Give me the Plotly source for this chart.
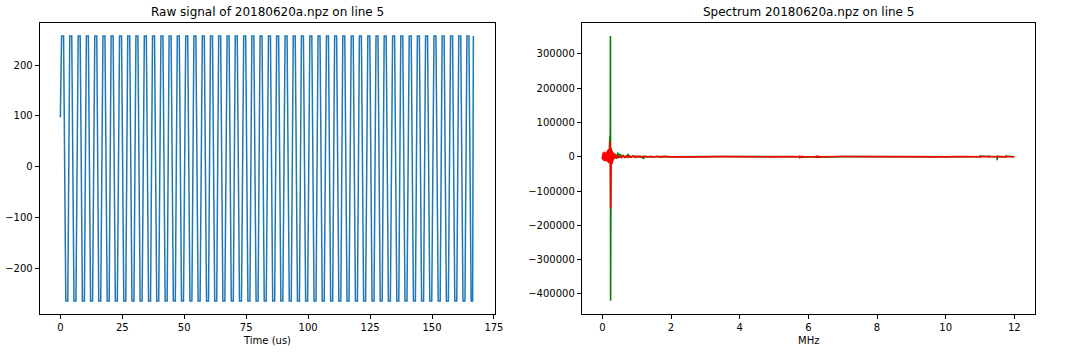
import plotly.graph_objects as go

# ---------------- data: raw signal (vertices) ----------------
# each row: top-plateau start, top-plateau end, bottom-plateau start, bottom-plateau end (us)
sig_t = [0.0,
         0.5, 1.3, 2.2, 3.0,
         3.8, 4.6, 5.5, 6.3,
         7.2, 8.0, 8.9, 9.7,
         10.5, 11.3, 12.2, 13.0,
         13.9, 14.7, 15.5, 16.3,
         17.2, 18.0, 18.9, 19.7,
         20.5, 21.3, 22.2, 23.0,
         23.9, 24.7, 25.6, 26.4,
         27.2, 28.0, 28.9, 29.7,
         30.5, 31.3, 32.2, 33.0,
         33.9, 34.7, 35.6, 36.4,
         37.2, 38.0, 38.9, 39.7,
         40.6, 41.4, 42.3, 43.1,
         43.9, 44.7, 45.6, 46.4,
         47.2, 48.0, 48.9, 49.7,
         50.6, 51.4, 52.3, 53.1,
         53.9, 54.7, 55.6, 56.4,
         57.3, 58.1, 59.0, 59.8,
         60.6, 61.4, 62.3, 63.1,
         63.9, 64.7, 65.6, 66.4,
         67.3, 68.1, 69.0, 69.8,
         70.6, 71.4, 72.3, 73.1,
         74.0, 74.8, 75.7, 76.5,
         77.3, 78.1, 79.0, 79.8,
         80.6, 81.4, 82.3, 83.1,
         84.0, 84.8, 85.7, 86.5,
         87.3, 88.1, 89.0, 89.8,
         90.7, 91.5, 92.4, 93.2,
         94.0, 94.8, 95.7, 96.5,
         97.3, 98.1, 99.0, 99.8,
         100.7, 101.5, 102.4, 103.2,
         104.0, 104.8, 105.7, 106.5,
         107.4, 108.2, 109.1, 109.9,
         110.7, 111.5, 112.4, 113.2,
         114.0, 114.8, 115.7, 116.5,
         117.4, 118.2, 119.1, 119.9,
         120.7, 121.5, 122.4, 123.2,
         124.1, 124.9, 125.8, 126.6,
         127.4, 128.2, 129.1, 129.9,
         130.7, 131.5, 132.4, 133.2,
         134.1, 134.9, 135.8, 136.6,
         137.4, 138.2, 139.1, 139.9,
         140.8, 141.6, 142.5, 143.3,
         144.1, 144.9, 145.8, 146.6,
         147.4, 148.2, 149.1, 149.9,
         150.8, 151.6, 152.5, 153.3,
         154.1, 154.9, 155.8, 156.6,
         157.5, 158.3, 159.2, 160.0,
         160.8, 161.6, 162.5, 163.3,
         164.1, 164.9, 165.8, 166.4,
         166.7]
sig_v = [97,
         257, 257, -264, -264,
         257, 257, -264, -264,
         257, 257, -264, -264,
         257, 257, -264, -264,
         257, 257, -264, -264,
         257, 257, -264, -264,
         257, 257, -264, -264,
         257, 257, -264, -264,
         257, 257, -264, -264,
         257, 257, -264, -264,
         257, 257, -264, -264,
         257, 257, -264, -264,
         257, 257, -264, -264,
         257, 257, -264, -264,
         257, 257, -264, -264,
         257, 257, -264, -264,
         257, 257, -264, -264,
         257, 257, -264, -264,
         257, 257, -264, -264,
         257, 257, -264, -264,
         257, 257, -264, -264,
         257, 257, -264, -264,
         257, 257, -264, -264,
         257, 257, -264, -264,
         257, 257, -264, -264,
         257, 257, -264, -264,
         257, 257, -264, -264,
         257, 257, -264, -264,
         257, 257, -264, -264,
         257, 257, -264, -264,
         257, 257, -264, -264,
         257, 257, -264, -264,
         257, 257, -264, -264,
         257, 257, -264, -264,
         257, 257, -264, -264,
         257, 257, -264, -264,
         257, 257, -264, -264,
         257, 257, -264, -264,
         257, 257, -264, -264,
         257, 257, -264, -264,
         257, 257, -264, -264,
         257, 257, -264, -264,
         257, 257, -264, -264,
         257, 257, -264, -264,
         257, 257, -264, -264,
         257, 257, -264, -264,
         257, 257, -264, -264,
         257, 257, -264, -264,
         257, 257, -264, -264,
         257, 257, -264, -264,
         257, 257, -264, -264,
         257, 257, -264, -264,
         -210]

# ---------------- data: spectrum ----------------
green_f = [0.00, 0.02, 0.05, 0.08, 0.11, 0.14, 0.17, 0.20, 0.22, 0.23, 0.235, 0.24, 0.245,
           0.25, 0.28, 0.32, 0.36, 0.40, 0.45, 0.48, 0.52, 0.55, 0.60, 0.68, 0.75, 0.80,
           0.90, 1.00, 1.10, 1.20, 1.25, 1.40, 1.70, 2.00, 3.00, 4.00, 5.00, 5.795, 5.80,
           5.805, 6.295, 6.30, 6.305, 7.00, 8.00, 9.00, 10.00, 10.995, 11.00, 11.005,
           11.49, 11.495, 11.50, 11.505, 11.745, 11.75, 11.755, 12.00]
green_v = [-8000, 6000, -7000, 8000, -9000, 10000, -12000, 15000, 60000, 20000, 352000,
           -420000, 10000, -15000, 12000, -8000, 9000, -6000, 12000, -3000, 8000, -2000,
           4000, -2000, 6000, -1500, 2500, -1500, 2000, -5000, 1000, -1000, 800, -500, 400,
           -300, 300, 0, 1500, -1500, 0, 1500, -1500, 300, -300, 300, -300, 0, -2500, 2000,
           0, 1000, -10000, 1000, 0, -3000, 2000, 0]

red_f = [0.00, 0.01, 0.02, 0.03, 0.04, 0.05, 0.06, 0.07, 0.08, 0.09, 0.10, 0.11, 0.12, 0.13,
         0.14, 0.15, 0.16, 0.17, 0.18, 0.19, 0.20, 0.21, 0.22, 0.23, 0.24, 0.25, 0.26, 0.27,
         0.28, 0.29, 0.30, 0.31, 0.32, 0.33, 0.34, 0.35, 0.36, 0.37, 0.38, 0.39, 0.40, 0.45,
         0.50, 0.55, 0.60, 0.65, 0.70, 0.75, 0.80, 0.85, 0.90, 0.95, 1.00, 1.10, 1.20, 1.30,
         1.40, 1.50, 1.60, 1.70, 1.80, 2.00, 2.50, 3.00, 3.50, 4.00, 4.50, 5.00, 5.50,
         5.735, 5.74, 5.745, 5.75, 5.755, 5.795, 5.80, 5.805, 5.81, 5.815,
         6.215, 6.22, 6.225, 6.23, 6.235, 6.275, 6.28, 6.285, 6.29, 6.295,
         7.00, 8.00, 9.00, 10.00, 10.50,
         10.995, 11.00, 11.005, 11.01, 11.245, 11.25, 11.255, 11.26,
         11.495, 11.50, 11.505, 11.51, 11.745, 11.75, 11.755, 11.76, 12.00]
red_v = [2000, -8000, 12000, -10000, 9000, -12000, 14000, -9000, 11000, -13000, 10000, -11000,
         15000, -14000, 12000, -16000, 18000, -15000, 20000, -18000, 22000, -20000, 30000,
         45000, -150000, -40000, 25000, -22000, 18000, -20000, 14000, -12000, 10000, -9000,
         7000, -6000, 5000, -4500, 4000, -3500, 3000, -3000, 2500, -2500, 2500, -2000, 2000,
         -2000, 1800, -1800, 1500, -1500, 1500, -1200, 1200, -1000, 1000, -1000, 1200, -1200,
         800, -600, 500, -500, 500, -500, 500, -500, 500,
         0, 3000, -3000, 3000, -3000, 0, 3000, -3000, 3000, 0,
         0, 3000, -3000, 3000, -3000, 0, 3000, -3000, 3000, 0,
         500, -500, 500, -500, 500,
         0, -3000, 3000, 0, 0, -3000, 3000, 0,
         0, -3000, 3000, 0, 0, -3000, 3000, 0, 0]

# ---------------- figure ----------------
W, H = 1072, 352
def px(x):
    return x / W
def py(y):
    return 1 - y / H

FONT = "DejaVu Sans"
fig = go.Figure()
fig.add_trace(go.Scatter(x=sig_t, y=sig_v, mode="lines", line=dict(color="#1f77b4", width=1.5),
                         xaxis="x", yaxis="y", showlegend=False))
fig.add_trace(go.Scatter(x=green_f, y=green_v, mode="lines", line=dict(color="green", width=1.6),
                         xaxis="x2", yaxis="y2", showlegend=False))
fig.add_trace(go.Scatter(x=red_f, y=red_v, mode="lines", line=dict(color="red", width=1.6),
                         xaxis="x2", yaxis="y2", showlegend=False))

ax_common = dict(showline=True, linecolor="black", linewidth=1, mirror=True, ticks="outside",
                 ticklen=4, tickwidth=1, tickcolor="black", showgrid=False, zeroline=False,
                 tickfont=dict(family=FONT, size=10, color="black"))

fig.update_layout(
    width=W, height=H, margin=dict(l=0, r=0, t=0, b=0),
    paper_bgcolor="white", plot_bgcolor="white",
    font=dict(family=FONT, size=10, color="black"),
    xaxis=dict(domain=[px(40), px(499)], range=[-8.35, 175.35],
               tickvals=[0, 25, 50, 75, 100, 125, 150, 175], anchor="y", **ax_common),
    yaxis=dict(domain=[py(314), py(22.7)], range=[-289.7, 283.2],
               tickvals=[-200, -100, 0, 100, 200], anchor="x", **ax_common),
    xaxis2=dict(domain=[px(586.7), px(1043.7)], range=[-0.6, 12.6],
                tickvals=[0, 2, 4, 6, 8, 10, 12], anchor="y2", **ax_common),
    yaxis2=dict(domain=[py(314), py(22.7)], range=[-458600, 390700],
                tickvals=[-400000, -300000, -200000, -100000, 0, 100000, 200000, 300000],
                tickformat="d", anchor="x2", **ax_common),
    annotations=[
        dict(text="Raw signal of 20180620a.npz on line 5", x=px(269.5), y=py(12), xref="paper",
             yref="paper", showarrow=False, font=dict(family=FONT, size=12), xanchor="center",
             yanchor="middle"),
        dict(text="Spectrum 20180620a.npz on line 5", x=px(815.2), y=py(12), xref="paper",
             yref="paper", showarrow=False, font=dict(family=FONT, size=12), xanchor="center",
             yanchor="middle"),
        dict(text="Time (us)", x=px(269.5), y=py(340), xref="paper", yref="paper",
             showarrow=False, font=dict(family=FONT, size=10), xanchor="center", yanchor="middle"),
        dict(text="MHz", x=px(815.2), y=py(340), xref="paper", yref="paper",
             showarrow=False, font=dict(family=FONT, size=10), xanchor="center", yanchor="middle"),
    ],
)

fig.write_html("out.html")
